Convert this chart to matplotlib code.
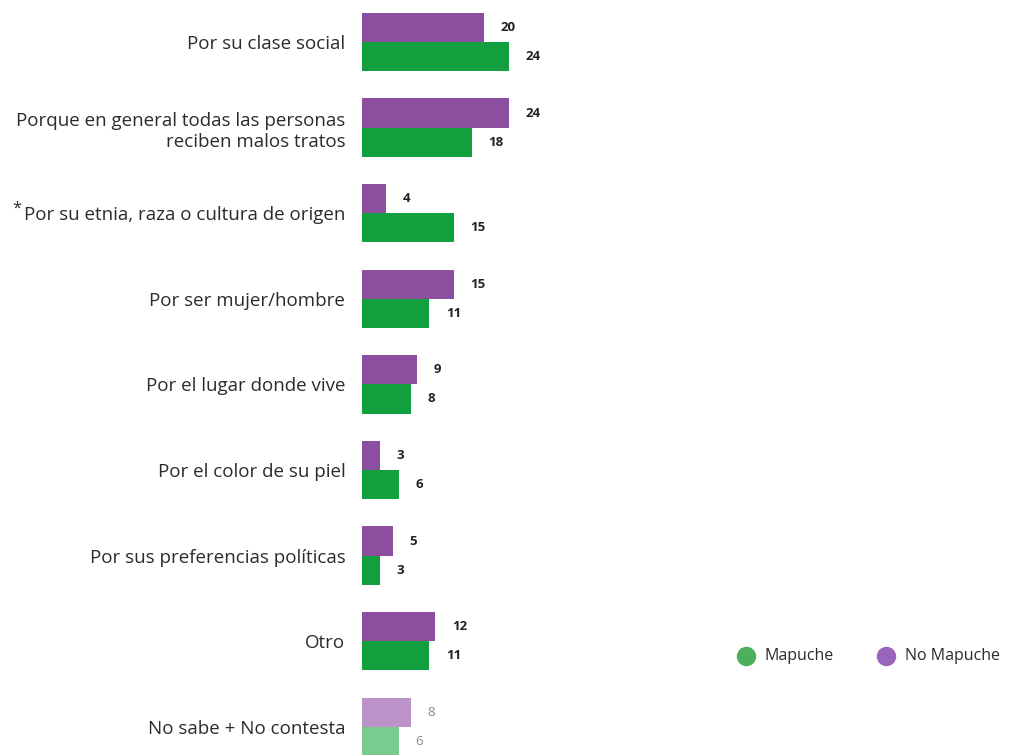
import matplotlib
matplotlib.use("Agg")
import matplotlib.pyplot as plt
import numpy as np
from matplotlib.lines import Line2D

plt.rcParams['font.family'] = ['Open Sans', 'DejaVu Sans']

categories = [
    "Por su clase social",
    "Porque en general todas las personas\nreciben malos tratos",
    "Por su etnia, raza o cultura de origen",
    "Por ser mujer/hombre",
    "Por el lugar donde vive",
    "Por el color de su piel",
    "Por sus preferencias políticas",
    "Otro",
    "No sabe + No contesta",
]
no_mapuche = [20, 24, 4, 15, 9, 3, 5, 12, 8]
mapuche = [24, 18, 15, 11, 8, 6, 3, 11, 6]
starred = [False, False, True, False, False, False, False, False, False]
legend_labels = ["Mapuche", "No Mapuche"]
legend_colors = ["#4DAE5C", "#9966BB"]

purple = "#8C4F9F"
green = "#12A03F"
purple_light = "#BC93C8"
green_light = "#79CB8E"
text_dark = "#2b2b2b"

W, H = 1011, 755
fig = plt.figure(figsize=(W / 100, H / 100), dpi=100)
ax = fig.add_axes([362 / W, 0, 1 - 362 / W, 1])

y = np.arange(len(categories))
h = 0.34
n = len(categories)
for i in range(n):
    last = i == n - 1
    pc = purple_light if last else purple
    gc = green_light if last else green
    ax.barh(y[i] - h / 2, no_mapuche[i], height=h, color=pc)
    ax.barh(y[i] + h / 2, mapuche[i], height=h, color=gc)
    lc = "#8a8a8a" if last else "#222222"
    fw = "normal" if last else "bold"
    off = 2.7
    ax.text(no_mapuche[i] + off, y[i] - h / 2, str(no_mapuche[i]), va="center",
            ha="left", fontsize=9.5, color=lc, fontweight=fw)
    ax.text(mapuche[i] + off, y[i] + h / 2, str(mapuche[i]), va="center",
            ha="left", fontsize=9.5, color=lc, fontweight=fw)

ax.set_xlim(0, (W - 362) / 6.12)
ax.set_ylim((755 - 42) / 85.6, -42 / 85.6)
ax.set_yticks(y)
ax.set_yticklabels(categories, fontsize=13.5, color=text_dark, ha="right",
                   linespacing=1.25)
ax.tick_params(axis="y", length=0, pad=12)
ax.set_xticks([])
for s in ax.spines.values():
    s.set_visible(False)

# Raised asterisk in front of the starred category
fig.canvas.draw()
renderer = fig.canvas.get_renderer()
for lbl, st in zip(ax.get_yticklabels(), starred):
    if st:
        bb = lbl.get_window_extent(renderer)
        fig.text((bb.x0 - 3) / W, (bb.y1 + 6) / H, "*", ha="right", va="top",
                 fontsize=12, color=text_dark)

# Legend: coloured dots with labels, bottom right
ly = 1 - 656 / H
for lab, col, xdot in zip(legend_labels, legend_colors, [746, 886]):
    fig.add_artist(Line2D([xdot / W], [ly], marker="o", markersize=14,
                          markerfacecolor=col, markeredgecolor="none",
                          linestyle="none", transform=fig.transFigure))
    fig.text((xdot + 19) / W, ly, lab, ha="left", va="center",
             fontsize=11.5, color=text_dark)

fig.savefig("out.png", dpi=100, facecolor="white")
